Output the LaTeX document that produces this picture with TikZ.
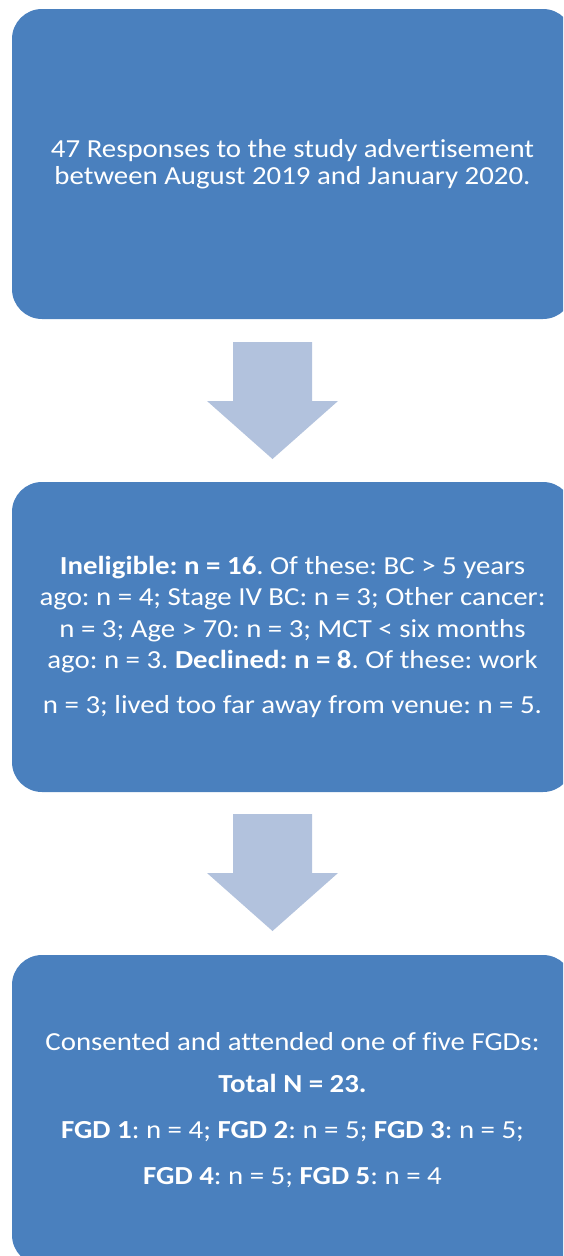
\documentclass[tikz,border=0pt]{standalone}
\usepackage{fontspec}
\setmainfont[FakeStretch=1.11,Ligatures=NoCommon]{Carlito}
\frenchspacing
\definecolor{boxblue}{RGB}{74,128,190}
\definecolor{arrowblue}{RGB}{178,194,221}

\begin{document}
\begin{tikzpicture}[x=1pt,y=-1pt]
\tikzset{stage/.style={fill=boxblue,rounded corners=30pt,minimum width=561pt,minimum height=310pt,text=white,align=center,inner sep=0pt}}
\clip (0,0) rectangle (563,1256);

\node[stage,font=\fontsize{26}{27.5}\selectfont] (resp) at (292.5,164)
    {47 Responses to the study advertisement\\between August 2019 and January 2020.};

\node[stage,font=\fontsize{26}{31.5}\selectfont] (excl) at (292.5,637)
    {\textbf{Ineligible: n = 16}. Of these: BC > 5 years\\
     ago: n = 4; Stage IV BC: n = 3; Other cancer:\\
     n = 3; Age > 70: n = 3; MCT < six months\\
     ago: n = 3. \textbf{Declined: n = 8}. Of these: work\\[13.5pt]
     n = 3; lived too far away from venue: n = 5.};

\node[stage,font=\fontsize{26}{46}\selectfont] (fgd) at (292.5,1110)
    {Consented and attended one of five FGDs:\\[-4pt]
     \textbf{Total N = 23.}\\
     \textbf{FGD 1}: n = 4; \textbf{FGD 2}: n = 5; \textbf{FGD 3}: n = 5;\\
     \textbf{FGD 4}: n = 5; \textbf{FGD 5}: n = 4};

% block arrows between the stages
\foreach \y in {342,814}{
    \fill[arrowblue] (233,\y) -- (312,\y) -- (312,\y+59) -- (338,\y+59)
        -- (272.5,\y+117) -- (207,\y+59) -- (233,\y+59) -- cycle;}
\end{tikzpicture}
\end{document}
